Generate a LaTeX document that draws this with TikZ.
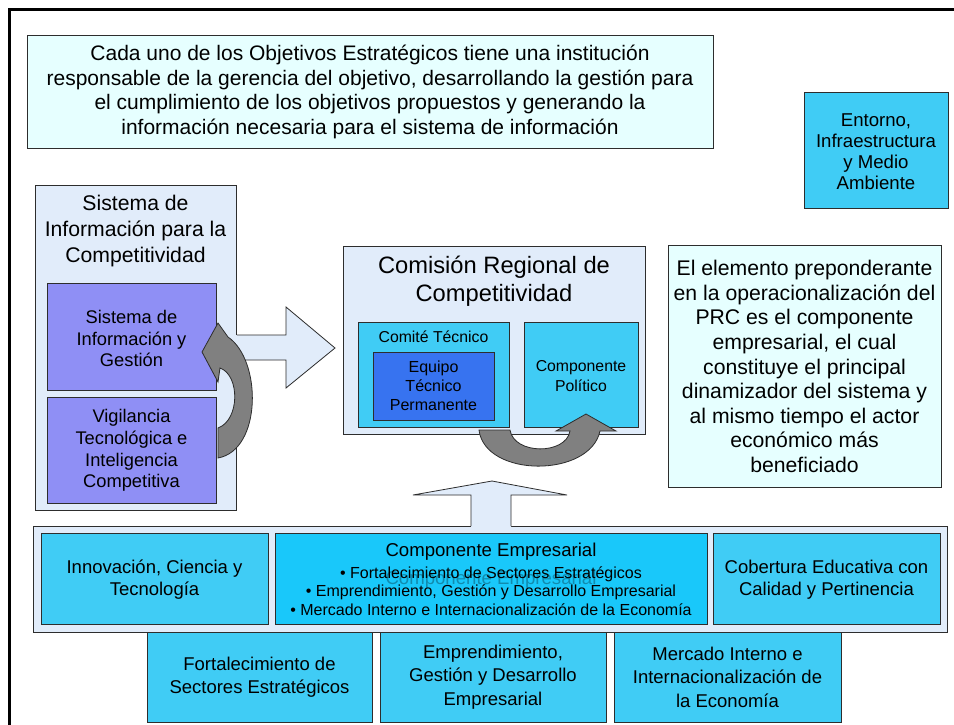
\documentclass[tikz,border=0pt]{standalone}
\usepackage{fontspec}
\setmainfont{Liberation Sans}
\definecolor{palecyan}{RGB}{230,255,255}
\definecolor{paleblue}{RGB}{225,236,250}
\definecolor{peri}{RGB}{143,143,245}
\definecolor{cyanbox}{RGB}{64,204,245}
\definecolor{cyandeep}{RGB}{25,200,250}
\definecolor{royal}{RGB}{55,115,240}
\definecolor{arrowgray}{RGB}{128,128,128}
\definecolor{edge}{RGB}{45,45,45}
\newcommand{\boxnode}[6]{%
  \node[box,#6,minimum width={#4pt-#2pt},minimum height={#5pt-#3pt}] (#1) at (#2,#3) {};}
\begin{document}
\begin{tikzpicture}[x=1pt,y=-1pt,
  box/.style={draw=edge, line width=0.8pt, inner sep=0pt, anchor=north west},
  txt/.style={align=center, inner sep=0pt, text=black},
  fbig/.style={font=\fontsize{21}{24.7}\selectfont},
  fmid/.style={font=\fontsize{18.5}{22}\selectfont},
  fsmall/.style={font=\fontsize{15.8}{19.2}\selectfont},
  lightarrow/.style={fill=paleblue},
  lightedge/.style={draw=edge, line width=0.8pt},
  grayarrow/.style={fill=arrowgray, draw=edge, line width=0.8pt}]
\useasboundingbox (0,0) rectangle (954,724);
\fill[white] (0,0) rectangle (954,724);
\node[draw=black, line width=3pt, inner sep=0pt, anchor=north west,
      minimum width=970pt, minimum height=740pt] (frame) at (8,8) {};

% top text box
\boxnode{topbox}{27}{35}{713}{148}{fill=palecyan}
\node[txt,fbig] (toptext) at (370,92) {Cada uno de los Objetivos Estratégicos tiene una institución\\
responsable de la gerencia del objetivo, desarrollando la gestión para\\
el cumplimiento de los objetivos propuestos y generando la\\
información necesaria para el sistema de información};

% Entorno box
\boxnode{entorno}{804}{92}{948}{208}{fill=cyanbox}
\node[txt,font=\fontsize{18.6}{21}\selectfont] (entornotext) at (876,152) {Entorno,\\Infraestructura\\y Medio\\Ambiente};

% Sistema de Informacion
\boxnode{sistema}{35}{185}{236}{510}{fill=paleblue}
\node[txt,font=\fontsize{21.2}{26}\selectfont] (sistematitle) at (135.5,231) {Sistema de\\Información para la\\Competitividad};
\boxnode{sig}{47}{283}{216}{390}{fill=peri}
\node[txt,font=\fontsize{18.3}{21.7}\selectfont] (sigtext) at (131.5,338.5) {Sistema de\\Información y\\Gestión};
\boxnode{vig}{47}{397}{216}{503}{fill=peri}
\node[txt,font=\fontsize{18.3}{21.7}\selectfont] (vigtext) at (131.5,450.5) {Vigilancia\\Tecnológica e\\Inteligencia\\Competitiva};

% Comision Regional
\boxnode{comision}{343}{246}{645}{434}{fill=paleblue}
\node[txt,font=\fontsize{23.7}{28}\selectfont] (comisiontitle) at (494,281) {Comisión Regional de\\Competitividad};
\boxnode{comite}{358}{322}{509}{427}{fill=cyanbox}
\node[txt,fsmall] (comitetext) at (433.5,337) {Comité Técnico};
\boxnode{equipo}{373}{352}{494}{420}{fill=royal}
\node[txt,font=\fontsize{16}{19}\selectfont] (equipotext) at (433.5,386) {Equipo\\Técnico\\Permanente};
\boxnode{politico}{524}{322}{638}{427}{fill=cyanbox}
\node[txt,fsmall] (politicotext) at (581,376) {Componente\\Político};

% right text box
\boxnode{rightbox}{668}{245}{941}{487}{fill=palecyan}
\node[txt,font=\fontsize{21.2}{24.6}\selectfont] (righttext) at (804.5,366.5) {El elemento preponderante\\
en la operacionalización del\\PRC es el componente\\empresarial, el cual\\constituye el principal\\
dinamizador del sistema y\\al mismo tiempo el actor\\económico más\\beneficiado};

% bottom container
\boxnode{container}{33}{526}{947}{632}{fill=paleblue}
\boxnode{innov}{41}{533}{268}{624}{fill=cyanbox}
\node[txt,fmid] (innovtext) at (154.5,580) {Innovación, Ciencia y\\Tecnología};
\boxnode{empresarial}{275}{533}{707}{624}{fill=cyandeep}
\node[txt,font=\fontsize{18.6}{22}\selectfont, text opacity=0.3] (ghost) at (491,580) {Componente Empresarial};
\node[txt,font=\fontsize{18.6}{22}\selectfont] (emptitle) at (491,552) {Componente Empresarial};
\node[txt,font=\fontsize{16}{18.6}\selectfont] (empbullets) at (491,591) {• Fortalecimiento de Sectores Estratégicos\\
• Emprendimiento, Gestión y Desarrollo Empresarial\\
• Mercado Interno e Internacionalización de la Economía};
\boxnode{cobertura}{713}{533}{940}{624}{fill=cyanbox}
\node[txt,fmid] (coberturatext) at (826.5,580) {Cobertura Educativa con\\Calidad y Pertinencia};

% second row
\boxnode{fortal}{147}{632}{372}{722}{fill=cyanbox}
\node[txt,font=\fontsize{18.5}{23.5}\selectfont] (fortaltext) at (259.5,677) {Fortalecimiento de\\Sectores Estratégicos};
\boxnode{empren}{380}{632}{606}{722}{fill=cyanbox}
\node[txt,font=\fontsize{18.5}{23.5}\selectfont] (emprentext) at (493,677) {Emprendimiento,\\Gestión y Desarrollo\\Empresarial};
\boxnode{mercado}{614}{632}{841}{722}{fill=cyanbox}
\node[txt,font=\fontsize{18.5}{23.5}\selectfont] (mercadotext) at (727.5,677) {Mercado Interno e\\Internacionalización de\\la Economía};

% light arrow right (Sistema -> Comision)
\coordinate (ra1) at (sistema.north east |- 0,335);
\coordinate (ra2) at (sistema.north east |- 0,360);
\fill[lightarrow] ([xshift=-1pt]ra1) -- (286,335) -- (286,307) -- (335,348) -- (286,388) -- (286,360) -- ([xshift=-1pt]ra2) -- cycle;
\draw[lightedge] (ra1) -- (286,335) -- (286,307) -- (335,348) -- (286,388) -- (286,360) -- (ra2);

% light arrow up (container -> Comision)
\coordinate (ua1) at (container.north west -| 471,0);
\coordinate (ua2) at (container.north west -| 511,0);
\fill[lightarrow] ([yshift=-1pt]ua1) -- (471,495) -- (413,495) -- (492,481) -- (567,495) -- (511,495) -- ([yshift=-1pt]ua2) -- cycle;
\draw[lightedge] (ua1) -- (471,495) -- (413,495) -- (492,481) -- (567,495) -- (511,495) -- (ua2);

% gray curved arrow (Vigilancia -> Sistema de Informacion y Gestion)
\draw[grayarrow] (218,458) .. controls (262,450) and (262,360) .. (228,337)
  -- (218,323) -- (202,352) -- (218,382) -- (220,368)
  .. controls (240,375) and (240,420) .. (218,428) -- cycle;

% gray U arrow (Comite -> Componente Politico)
\draw[grayarrow] (479,430) .. controls (485,478) and (590,478) .. (600,431)
  -- (616,431) -- (586,414) -- (556,431) -- (570,431)
  .. controls (566,455) and (514,455) .. (510,430) -- cycle;
\end{tikzpicture}
\end{document}
